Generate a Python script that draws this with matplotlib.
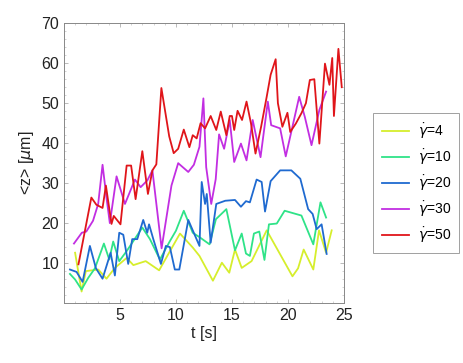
import matplotlib
matplotlib.use("Agg")
import matplotlib.pyplot as plt
from matplotlib.ticker import MultipleLocator

plt.rcParams["font.family"] = ["Liberation Sans", "DejaVu Sans"]
plt.rcParams["mathtext.fontset"] = "dejavusans"

# shear rate series, <z> in um vs t in s
t_4 = [1.0, 1.58, 1.96, 3.07, 3.8, 4.55, 5.6, 6.2, 7.3, 8.5, 10.36, 11.5, 12.1,
       13.3, 14.1, 14.76, 15.27, 15.87, 16.75, 18.1, 20.4, 20.9, 21.4, 22.26,
       22.77, 23.4, 23.9]
z_4 = [12.6, 2.9, 8.0, 8.4, 6.1, 8.8, 11.3, 9.5, 10.5, 8.2, 17.4, 13.9, 11.8,
       5.6, 10.1, 7.6, 13.4, 8.8, 10.5, 18.2, 6.7, 8.7, 13.4, 8.4,
       18.2, 12.6, 18.2]

t_10 = [0.54, 1.0, 1.58, 2.17, 2.77, 3.57, 4.05, 4.4, 4.94, 5.6, 7.0, 7.68,
        8.57, 9.46, 10.0, 10.7, 11.5, 12.1, 13.0, 13.57, 14.5, 15.27, 15.87,
        16.25, 16.6, 16.96, 17.44, 17.9, 18.3, 19.0, 19.7, 21.2, 22.26, 22.9,
        23.4]
z_10 = [7.3, 5.9, 3.4, 6.3, 8.7, 14.9, 10.9, 15.4, 10.5, 13.0, 18.9, 16.0,
        10.9, 15.5, 18.1, 23.1, 17.6, 16.5, 14.7, 21.0, 23.5, 13.2, 17.4,
        12.4, 11.8, 17.4, 17.9, 10.8, 19.7, 19.9, 23.1, 21.9, 14.7, 25.2,
        21.4]

t_20 = [0.54, 1.13, 1.67, 2.32, 2.86, 3.45, 4.17, 4.55, 4.94, 5.3, 5.74, 6.1,
        6.55, 7.08, 7.44, 7.6, 7.98, 8.66, 9.1, 9.46, 9.9, 10.3, 11.1, 12.1,
        12.3, 12.6, 12.75, 13.1, 13.6, 14.4, 15.27, 15.8, 16.25, 16.6, 17.2,
        17.65, 17.95, 18.45, 19.3, 20.3, 21.1, 21.8, 22.2, 22.56, 23.0, 23.45]
z_20 = [8.4, 7.8, 5.3, 14.3, 8.7, 6.1, 12.6, 6.9, 17.6, 17.1, 9.8, 16.0,
        16.0, 20.8, 17.6, 19.7, 16.0, 9.8, 14.3, 14.0, 8.4, 8.4, 20.8, 14.3,
        30.3, 24.8, 27.3, 15.1, 24.8, 25.6, 25.8, 24.1, 25.5, 25.2, 30.9,
        30.3, 22.9, 30.5, 33.2, 33.2, 31.1, 23.5, 22.3, 18.5, 19.7, 12.3]

t_30 = [0.9, 1.6, 2.0, 2.6, 3.06, 3.45, 3.8, 4.1, 4.7, 5.45, 6.34, 6.85, 7.45,
        7.9, 8.72, 9.6, 10.2, 11.1, 11.6, 12.1, 12.45, 12.7, 13.15, 13.55,
        13.85, 14.3, 14.8, 15.2, 15.8, 16.3, 16.85, 17.55, 18.2, 18.5, 19.3,
        19.8, 21.0, 21.5, 22.1, 22.8, 23.4]
z_30 = [14.9, 17.6, 17.9, 20.6, 24.8, 34.6, 26.4, 20.0, 31.7, 24.8, 30.9,
        29.0, 30.7, 33.2, 13.7, 29.4, 35.0, 32.8, 34.6, 39.1, 51.2, 34.0,
        24.8, 31.0, 42.2, 38.6, 45.8, 35.3, 39.9, 35.7, 45.8, 36.5, 50.4,
        44.5, 43.7, 36.7, 51.6, 46.6, 39.5, 48.3, 52.9]

t_50 = [1.3, 2.45, 2.9, 3.45, 3.75, 4.25, 4.45, 5.05, 5.6, 6.0, 6.4, 7.0, 7.5,
        7.9, 8.25, 8.7, 9.4, 9.8, 10.2, 10.7, 11.2, 11.5, 11.85, 12.2, 12.6,
        13.1, 13.6, 14.0, 14.5, 14.8, 15.0, 15.2, 15.5, 15.9, 16.3, 16.7,
        17.1, 17.6, 18.1, 18.45, 18.9, 19.1, 19.5, 19.95, 20.2, 20.7, 21.2,
        21.6, 21.95, 22.35, 22.8, 23.3, 23.7, 23.95, 24.1, 24.5, 24.8]
z_50 = [9.7, 26.4, 24.6, 23.8, 29.4, 19.8, 21.8, 19.7, 34.4, 34.4, 26.0,
        38.0, 27.3, 33.2, 34.7, 53.8, 41.7, 37.5, 38.6, 43.4, 39.0, 42.0,
        41.2, 45.0, 43.7, 46.8, 43.3, 47.9, 42.0, 46.8, 46.8, 43.3, 48.1,
        45.8, 50.4, 44.9, 37.4, 44.1, 51.6, 57.1, 61.0, 50.0, 44.1, 47.6,
        42.8, 44.9, 47.5, 50.0, 55.8, 56.0, 39.9, 59.9, 54.6, 61.3, 46.8,
        63.6, 54.0]

series = [
    ("4", t_4, z_4, "#d6ee2c"),
    ("10", t_10, z_10, "#2fe388"),
    ("20", t_20, z_20, "#1f6ad0"),
    ("30", t_30, z_30, "#c22ee2"),
    ("50", t_50, z_50, "#e0151a"),
]

fig = plt.figure(figsize=(4.63, 3.63), dpi=100, facecolor="white")
ax = fig.add_axes([0.138, 0.165, 0.605, 0.771])

for lab, t, z, col in series:
    ax.plot(t, z, color=col, lw=1.3, label=r"$\dot{\gamma}$=" + lab)

ax.set_xlim(0, 25)
ax.set_ylim(0, 70)
ax.set_xticks([5, 10, 15, 20, 25])
ax.set_yticks([10, 20, 30, 40, 50, 60, 70])
ax.xaxis.set_minor_locator(MultipleLocator(1))
ax.yaxis.set_minor_locator(MultipleLocator(2))
ax.tick_params(which="both", direction="in", top=True, right=True,
               color="#b0b0b0", labelsize=11.5, labelcolor="#222222")
ax.tick_params(which="major", length=3, width=0.6)
ax.tick_params(which="minor", length=1.5, width=0.4)
for sp in ax.spines.values():
    sp.set_color("#888888")
    sp.set_linewidth(0.7)

ax.set_xlabel("t [s]", fontsize=11.5, color="#222222", labelpad=2)
ax.set_ylabel(r"<z> [$\mu$m]", fontsize=11.5, color="#222222", labelpad=4)

leg = fig.legend(loc="upper left", bbox_to_anchor=(0.806, 0.689),
                 borderaxespad=0.0, frameon=True, fancybox=False, fontsize=10,
                 handlelength=2.0, labelspacing=0.45, borderpad=0.6,
                 handletextpad=0.6)
leg.get_frame().set_edgecolor("#888888")
leg.get_frame().set_linewidth(0.7)

fig.savefig("out.png", dpi=100, facecolor="white")
